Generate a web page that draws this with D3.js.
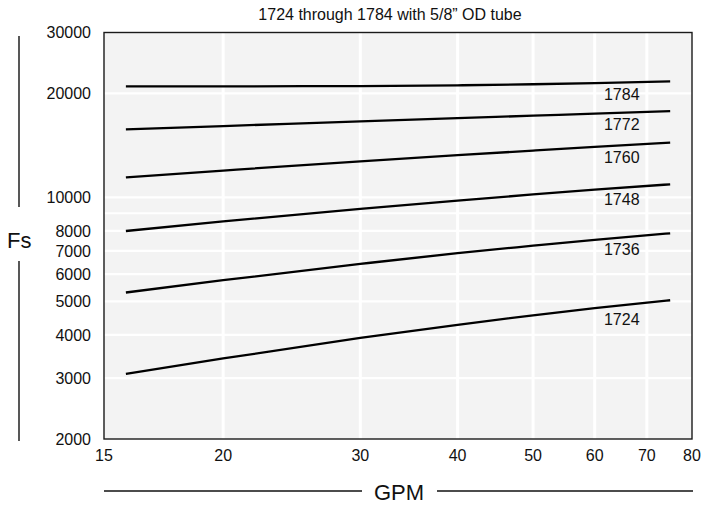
<!DOCTYPE html>
<html><head><meta charset="utf-8">
<script src="https://cdn.jsdelivr.net/npm/d3@7"></script>
<style>
body{margin:0;background:#fff}
svg{display:block}
text{font-family:"Liberation Sans",Arial,Helvetica,sans-serif;fill:#111}
</style>
</head><body>
<svg id="c" width="703" height="506"></svg>
<script>
// ---- data ----
const gpm = [15, 20, 30, 40, 50, 60, 75];
const fs1724 = [3087, 3420, 3920, 4280, 4560, 4780, 5040];
const fs1736 = [5307, 5760, 6420, 6900, 7250, 7540, 7874];
const fs1748 = [7995, 8520, 9260, 9790, 10200, 10530, 10911];
const fs1760 = [11433, 11960, 12720, 13250, 13660, 14000, 14403];
const fs1772 = [15740, 16086, 16590, 16952, 17235, 17471, 17777];
const fs1784 = [20950, 20960, 21000, 21100, 21250, 21420, 21664];
const seriesNames = ["1724", "1736", "1748", "1760", "1772", "1784"];
const xTickValues = [15, 20, 30, 40, 50, 60, 70, 80];
const yTickValues = [2000, 3000, 4000, 5000, 6000, 7000, 8000, 10000, 20000, 30000];
const xGridValues = [20, 30, 40, 50, 60, 70];
const yGridValues = [3000, 4000, 5000, 6000, 7000, 8000, 9000, 10000, 20000];
const titleText = "1724 through 1784 with 5/8\u201D OD tube";
const xTitle = "GPM";
const yTitle = "Fs";

const seriesValues = [fs1724, fs1736, fs1748, fs1760, fs1772, fs1784];
const series = seriesNames.map((n, i) => ({name: n, pts: gpm.map((g, j) => ({x: g, y: seriesValues[i][j]}))}));

const svg = d3.select("#c");
const L = 104, R = 692, T = 32.5, B = 439;
const x = d3.scaleLog().domain([14.06, 80]).range([L, R]);
const y = d3.scaleLog().domain([2000, 30000]).range([B, T]);

// background
svg.append("rect").attr("x", L).attr("y", T).attr("width", R - L).attr("height", B - T).attr("fill", "#f3f3f3");

// grid
svg.append("g").selectAll("line").data(yGridValues).join("line")
  .attr("x1", L).attr("x2", R).attr("y1", d => y(d)).attr("y2", d => y(d))
  .attr("stroke", "#fff").attr("stroke-width", 2.2);
svg.append("g").selectAll("line").data(xGridValues).join("line")
  .attr("y1", T).attr("y2", B).attr("x1", d => x(d)).attr("x2", d => x(d))
  .attr("stroke", "#fff").attr("stroke-width", 3);

// border
svg.append("rect").attr("x", L).attr("y", T).attr("width", R - L).attr("height", B - T)
  .attr("fill", "none").attr("stroke", "#1a1a1a").attr("stroke-width", 1.4);

// curves
const line = d3.line().x(d => x(d.x)).y(d => y(d.y)).curve(d3.curveMonotoneX);
svg.append("g").selectAll("path").data(series).join("path")
  .attr("d", d => line(d.pts)).attr("fill", "none").attr("stroke", "#000").attr("stroke-width", 2.3);

// series labels
function valAt(pts, g) {
  for (let i = 0; i < pts.length - 1; i++) {
    if (g >= pts[i].x && g <= pts[i + 1].x) {
      const t = Math.log(g / pts[i].x) / Math.log(pts[i + 1].x / pts[i].x);
      return Math.exp(Math.log(pts[i].y) + t * Math.log(pts[i + 1].y / pts[i].y));
    }
  }
  return pts[pts.length - 1].y;
}
svg.append("g").selectAll("text").data(series).join("text")
  .attr("x", x(65)).attr("y", (d, i) => y(valAt(d.pts, 65)) + (i === 0 ? 20 : 17.5))
  .attr("text-anchor", "middle").attr("font-size", 16).text(d => d.name);

// y tick labels
svg.append("g").selectAll("text").data(yTickValues).join("text")
  .attr("x", 91).attr("y", d => y(d)).attr("dy", "0.36em")
  .attr("text-anchor", "end").attr("font-size", 16).text(d => d);

// x tick labels (first label sits at the frame edge as in the original)
svg.append("g").selectAll("text").data(xTickValues).join("text")
  .attr("x", (d, i) => i === 0 ? x.range()[0] : x(d)).attr("y", B + 22)
  .attr("text-anchor", "middle").attr("font-size", 16).text(d => d);

// title
svg.append("text").attr("x", 390).attr("y", 20).attr("text-anchor", "middle")
  .attr("font-size", 16).text(titleText);

// axis titles with rules
svg.append("text").attr("x", 399).attr("y", 500).attr("text-anchor", "middle").attr("font-size", 22).text(xTitle);
svg.append("line").attr("x1", L).attr("x2", 362).attr("y1", 491).attr("y2", 491).attr("stroke", "#111").attr("stroke-width", 1.4);
svg.append("line").attr("x1", 437).attr("x2", 693).attr("y1", 491).attr("y2", 491).attr("stroke", "#111").attr("stroke-width", 1.4);

svg.append("text").attr("x", 7).attr("y", 248).attr("font-size", 22).text(yTitle);
svg.append("line").attr("x1", 19).attr("x2", 19).attr("y1", 36).attr("y2", 207).attr("stroke", "#111").attr("stroke-width", 1.4);
svg.append("line").attr("x1", 19).attr("x2", 19).attr("y1", 261).attr("y2", 441).attr("stroke", "#111").attr("stroke-width", 1.4);
</script>
</body></html>
